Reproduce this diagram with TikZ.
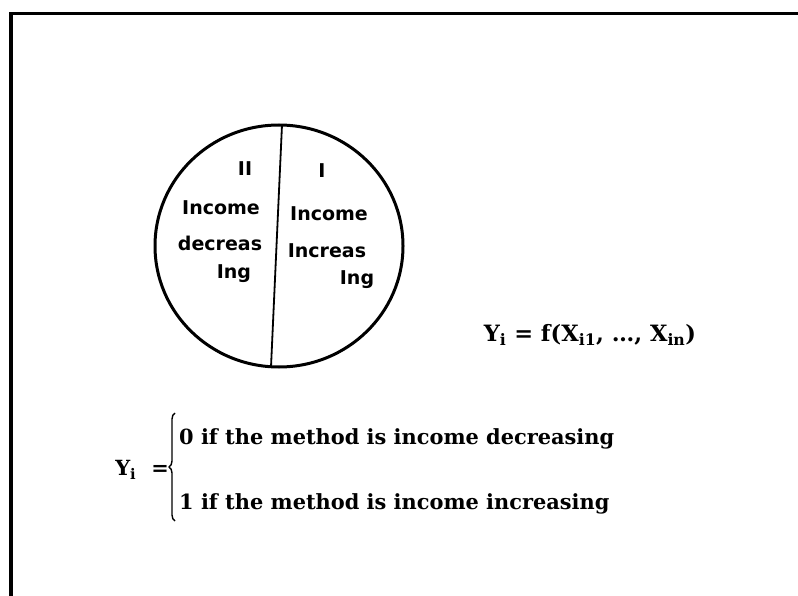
\documentclass[tikz,border=0pt]{standalone}
\usepackage{fontspec}
\usepackage{tikz}
\usetikzlibrary{shapes.geometric,decorations.pathreplacing}
\newfontfamily\slicefont{DejaVu Sans}
\newfontfamily\eqfont{DejaVu Serif}
\definecolor{ink}{HTML}{000000}
\tikzset{
  rim/.style={draw=ink, line width=3pt, ellipse, inner sep=0pt,
              minimum width=248pt, minimum height=242pt},
  slice/.style={font=\slicefont\bfseries\fontsize{19}{21}\selectfont,
                inner sep=0pt},
  eqn/.style={font=\eqfont\bfseries\fontsize{20.9}{24}\selectfont,
              inner sep=0pt},
  bigeqn/.style={eqn, font=\eqfont\bfseries\fontsize{22.5}{26}\selectfont},
  frameline/.style={line width=3.5pt, draw=ink},
  divider/.style={line width=1.8pt, draw=ink},
  cases/.style={decorate, decoration={brace, amplitude=6pt},
                line width=1.4pt, draw=ink},
}

\begin{document}
\begin{tikzpicture}[x=1pt, y=-1pt]
\useasboundingbox (0,0) rectangle (798,596);

% ---- frame ---------------------------------------------------------
\coordinate (fbot)   at (11,596);
\coordinate (corner) at (11,13.5);
\coordinate (fright) at (798,13.5);
\draw[frameline] (fbot) -- (corner) -- (fright);

% ---- split circle --------------------------------------------------
\node[rim] (disc) at (279,246) {};
\coordinate (cuttop) at (282,125);
\coordinate (cutbot) at (271,367);
\draw[divider] (cuttop) -- (cutbot);

\node[slice] (twoname) at (245,169) {II};
\node[slice] (twoinc)  at (221,208) {Income};
\node[slice] (twodec)  at (220,243) {decreas};
\node[slice] (twoing)  at (234,274) {Ing};

\node[slice] (onename) at (322,171) {I};
\node[slice] (oneinc)  at (329,214) {Income};
\node[slice] (oneincr) at (327,251) {Increas};
\node[slice] (oneing)  at (357,280) {Ing};

% ---- model ---------------------------------------------------------
\node[bigeqn] (model) at (590,335)
     {Y\textsubscript{i} = f(X\textsubscript{i1}, \ldots, X\textsubscript{in})};

% ---- dependent variable ---------------------------------------------
\node[eqn, anchor=east] (yi) at (169,470) {Y\textsubscript{i}\hspace{15pt}=};
\coordinate (brlow) at (175,521);
\coordinate (brhigh) at (175,413);
\draw[cases] (brlow) -- (brhigh);
\node[eqn, anchor=west] (zero) at (179,439)
     {0 if the method is income decreasing};
\node[eqn, anchor=west] (one) at (179,504)
     {1 if the method is income increasing};
\end{tikzpicture}
\end{document}
